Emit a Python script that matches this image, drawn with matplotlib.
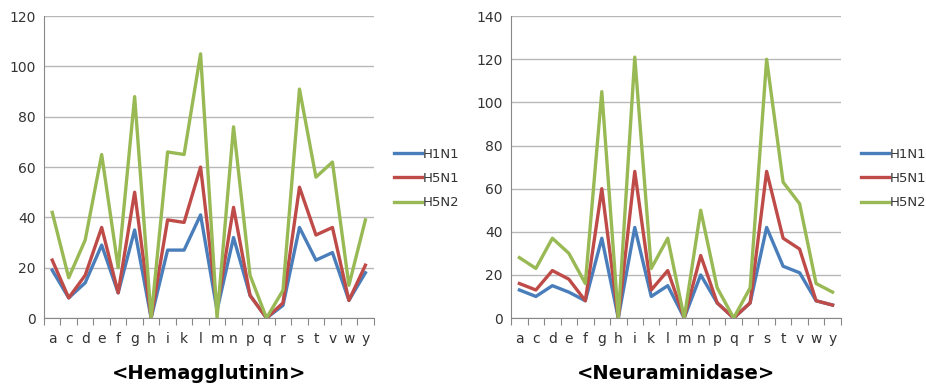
import numpy as np
import matplotlib.pyplot as plt

# amino acid categories
residues = ['a', 'c', 'd', 'e', 'f', 'g', 'h', 'i', 'k', 'l',
            'm', 'n', 'p', 'q', 'r', 's', 't', 'v', 'w', 'y']

# Hemagglutinin counts
ha_h1n1 = [19, 8, 14, 29, 10, 35, 0, 27, 27, 41, 3, 32, 9, 0, 5, 36, 23, 26, 7, 18]
ha_h5n1 = [23, 8, 17, 36, 10, 50, 0, 39, 38, 60, 4, 44, 9, 0, 6, 52, 33, 36, 7, 21]
ha_h5n2 = [42, 16, 31, 65, 20, 88, 0, 66, 65, 105, 0, 76, 17, 0, 11, 91, 56, 62, 13, 39]

# Neuraminidase counts
na_h1n1 = [13, 10, 15, 12, 8, 37, 0, 42, 10, 15, 0, 20, 7, 0, 7, 42, 24, 21, 8, 6]
na_h5n1 = [16, 13, 22, 18, 8, 60, 0, 68, 13, 22, 0, 29, 7, 0, 7, 68, 37, 32, 8, 6]
na_h5n2 = [28, 23, 37, 30, 16, 105, 0, 121, 23, 37, 0, 50, 14, 0, 14, 120, 63, 53, 16, 12]

series_names = ['H1N1', 'H5N1', 'H5N2']
colors = ['#4a7ebb', '#be4b48', '#98b954']

fig = plt.figure(figsize=(9.26, 3.89), dpi=100)

panels = [
    (0.0475, 'Hemagglutinin', [ha_h1n1, ha_h5n1, ha_h5n2], 120),
    (0.552, 'Neuraminidase', [na_h1n1, na_h5n1, na_h5n2], 140),
]

x = np.arange(len(residues))
for left, name, data, ymax in panels:
    ax = fig.add_axes([left, 0.1825, 0.356, 0.776])
    for vals, label, c in zip(data, series_names, colors):
        ax.plot(x, vals, color=c, linewidth=2.4, label=label)
    ax.set_xlim(-0.5, len(residues) - 0.5)
    ax.set_ylim(0, ymax)
    ax.set_yticks(np.arange(0, ymax + 1, 20))
    ax.yaxis.grid(True, color='#b8b8b8', linewidth=1)
    ax.set_axisbelow(True)
    # tick marks at category boundaries, labels at centres
    ax.set_xticks(np.arange(-0.5, len(residues)), minor=False)
    ax.set_xticklabels([])
    ax.set_xticks(x, minor=True)
    ax.set_xticklabels(residues, minor=True)
    ax.tick_params(axis='x', which='major', length=5, color='#888888')
    ax.tick_params(axis='x', which='minor', length=0, pad=10, labelsize=10, labelcolor='#333333')
    ax.tick_params(axis='y', length=0, pad=6, labelsize=10, labelcolor='#333333')
    for s in ['top', 'right']:
        ax.spines[s].set_visible(False)
    for s in ['left', 'bottom']:
        ax.spines[s].set_color('#888888')
    leg = ax.legend(loc='center left', bbox_to_anchor=(1.062, 0.462), frameon=False,
                    borderaxespad=0, borderpad=0, fontsize=9.5, handlelength=2.1,
                    handletextpad=0.05, labelspacing=0.85)
    for t in leg.get_texts():
        t.set_color('#333333')
    ax.text(0.5, -0.185, '<' + name + '>', transform=ax.transAxes, ha='center', va='center',
            fontsize=14, fontweight='bold')

fig.savefig('out.png', dpi=100)
